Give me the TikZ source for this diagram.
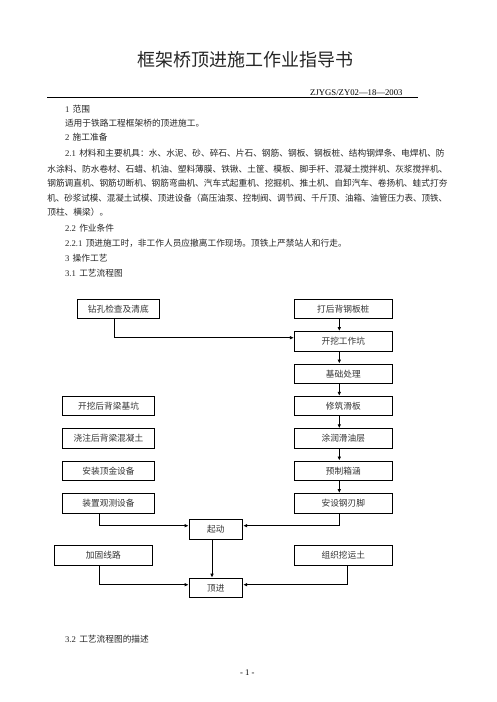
\documentclass[tikz,border=0pt]{standalone}
\usepackage{fontspec}
\setmainfont{Liberation Serif}
\newfontfamily\cjk{Noto Sans CJK SC}
\newfontfamily\latf{Liberation Serif}
\usetikzlibrary{arrows.meta}
\newcommand\lat[1]{{\latf #1}}
\begin{document}
\begin{tikzpicture}[x=1pt,y=-1pt,
  txt/.style={inner sep=0pt,outer sep=0pt,font=\fontsize{8.7}{10}\cjk,text=black!85,anchor=base west},
  box/.style={draw=black,line width=0.8pt,minimum height=19.5pt,inner sep=0pt,font=\fontsize{8.7}{10}\cjk,text=black!80},
  lbox/.style={box,minimum width=91.6pt},
  rbox/.style={box,minimum width=98pt},
  sbox/.style={box,minimum width=53.7pt},
  arr/.style={line width=0.8pt,-{Latex[length=4pt,width=3.6pt]}}]
\useasboundingbox (0,0) rectangle (496,702);
\fill[white] (0,0) rectangle (496,702);
% header
\node[inner sep=0pt,anchor=base,font=\fontsize{18}{20}\cjk,text=black!85] (title) at (245.9,66.1) {框架桥顶进施工作业指导书};
\node[inner sep=0pt,anchor=base east,font=\fontsize{8.7}{10}\latf] (code) at (402.7,95.2) {ZJYGS/ZY02—18—2003};
\coordinate (rl) at (47.3,97.7);
\coordinate (rr) at (418.3,97.7);
\draw[line width=0.8pt] (rl) -- (rr);
% body text
\node[txt] (t1) at (65,112.3) {\lat{1}\, 范围};
\node[txt] (t2) at (65,126) {适用于铁路工程框架桥的顶进施工。};
\node[txt] (t3) at (65,140.6) {\lat{2}\, 施工准备};
\node[txt] (t4) at (65,156.6) {\lat{2.1}\, 材料和主要机具：水、水泥、砂、碎石、片石、钢筋、钢板、钢板桩、结构钢焊条、电焊机、防};
\node[txt] (t5) at (47.3,172) {水涂料、防水卷材、石蜡、机油、塑料薄膜、铁锹、土筐、模板、脚手杆、混凝土搅拌机、灰浆搅拌机、};
\node[txt] (t6) at (47.3,186.6) {钢筋调直机、钢筋切断机、钢筋弯曲机、汽车式起重机、挖掘机、推土机、自卸汽车、卷扬机、蛙式打夯};
\node[txt] (t7) at (47.3,201) {\scalebox{0.978}[1]{机、砂浆试模、混凝土试模、顶进设备（高压油泵、控制阀、调节阀、千斤顶、油箱、油管压力表、顶铁、}};
\node[txt] (t8) at (47.3,215) {顶柱、横梁）。};
\node[txt] (t9) at (65,231.6) {\lat{2.2}\, 作业条件};
\node[txt] (t10) at (65,246.6) {\lat{2.2.1}\, 顶进施工时，非工作人员应撤离工作现场。顶铁上严禁站人和行走。};
\node[txt] (t11) at (65,261) {\lat{3}\, 操作工艺};
\node[txt] (t12) at (65,276) {\lat{3.1}\, 工艺流程图};
\node[txt] (t13) at (65,642.3) {\lat{3.2}\, 工艺流程图的描述};
\node[inner sep=0pt,anchor=base,font=\fontsize{8.7}{10}\latf] (pg) at (247.3,675.6) {- 1 -};
% flowchart boxes
\node[box,minimum width=82pt] (zk) at (118.3,308.7) {钻孔检查及清底};
\node[rbox] (r1) at (343.3,308.7) {打后背钢板桩};
\node[rbox] (r2) at (343.3,341.2) {开挖工作坑};
\node[rbox] (r3) at (343.3,373.7) {基础处理};
\node[rbox] (r4) at (343.3,406) {修筑滑板};
\node[rbox] (r5) at (343.3,438.4) {涂润滑油层};
\node[rbox] (r6) at (343.3,470.7) {预制箱涵};
\node[rbox] (r7) at (343.3,503.2) {安设钢刃脚};
\node[lbox] (l1) at (108.5,406) {开挖后背梁基坑};
\node[lbox] (l2) at (108.5,438.4) {浇注后背梁混凝土};
\node[lbox] (l3) at (108.5,470.7) {安装顶金设备};
\node[lbox] (l4) at (108.5,503.2) {装置观测设备};
\node[sbox] (qd) at (215.9,529.3) {起动};
\node[rbox] (jg) at (103.3,555.3) {加固线路};
\node[rbox] (zz) at (343.3,555.3) {组织挖运土};
\node[sbox] (dj) at (215.9,587.8) {顶进};
% connectors
\draw[arr] ([xshift=-3.6pt]zk.south) |- ([yshift=3.5pt]r2.west);
\draw[arr] ([xshift=-4pt]r1.south) -- ([xshift=-4pt]r2.north);
\draw[arr] ([xshift=-4pt]r2.south) -- ([xshift=-4pt]r3.north);
\draw[arr] ([xshift=-4pt]r3.south) -- ([xshift=-4pt]r4.north);
\draw[arr] ([xshift=-4pt]r4.south) -- ([xshift=-4pt]r5.north);
\draw[arr] ([xshift=-4pt]r5.south) -- ([xshift=-4pt]r6.north);
\draw[arr] ([xshift=-4pt]r6.south) -- ([xshift=-4pt]r7.north);
\draw[arr] ([xshift=-9.2pt]l4.south) |- ([yshift=3.6pt]qd.west);
\draw[arr] ([xshift=-4pt]r7.south) |- ([yshift=3.6pt]qd.east);
\draw[arr] ([xshift=-3.9pt]qd.south) -- ([xshift=-3.9pt]dj.north);
\draw[arr] ([xshift=-4pt]jg.south) |- ([yshift=3.1pt]dj.west);
\draw[arr] ([xshift=4pt]zz.south) |- ([yshift=3.1pt]dj.east);
\end{tikzpicture}
\end{document}
